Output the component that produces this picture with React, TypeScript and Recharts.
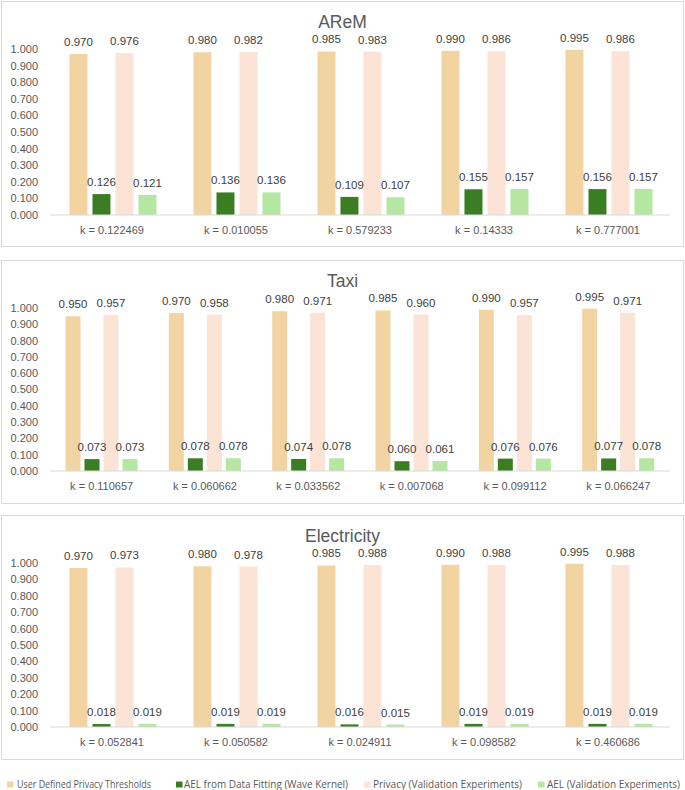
import React from "react";
import { BarChart, Bar, XAxis, YAxis, LabelList } from "recharts";

const aremK = ["k = 0.122469", "k = 0.010055", "k = 0.579233", "k = 0.14333", "k = 0.777001"];
const aremThreshold = [0.97, 0.98, 0.985, 0.99, 0.995];
const aremAelFit = [0.126, 0.136, 0.109, 0.155, 0.156];
const aremPrivacyVal = [0.976, 0.982, 0.983, 0.986, 0.986];
const aremAelVal = [0.121, 0.136, 0.107, 0.157, 0.157];

const taxiK = ["k = 0.110657", "k = 0.060662", "k = 0.033562", "k = 0.007068", "k = 0.099112", "k = 0.066247"];
const taxiThreshold = [0.95, 0.97, 0.98, 0.985, 0.99, 0.995];
const taxiAelFit = [0.073, 0.078, 0.074, 0.06, 0.076, 0.077];
const taxiPrivacyVal = [0.957, 0.958, 0.971, 0.96, 0.957, 0.971];
const taxiAelVal = [0.073, 0.078, 0.078, 0.061, 0.076, 0.078];

const elecK = ["k = 0.052841", "k = 0.050582", "k = 0.024911", "k = 0.098582", "k = 0.460686"];
const elecThreshold = [0.97, 0.98, 0.985, 0.99, 0.995];
const elecAelFit = [0.018, 0.019, 0.016, 0.019, 0.019];
const elecPrivacyVal = [0.973, 0.978, 0.988, 0.988, 0.988];
const elecAelVal = [0.019, 0.019, 0.015, 0.019, 0.019];

const yTicks = [0, 0.1, 0.2, 0.3, 0.4, 0.5, 0.6, 0.7, 0.8, 0.9, 1.0];

const seriesNames = [
  "User Defined Privacy Thresholds",
  "AEL from Data Fitting (Wave Kernel)",
  "Privacy (Validation Experiments)",
  "AEL (Validation Experiments)",
];
const seriesKeys = ["thr", "fit", "pv", "av"];
const seriesColors = ["#F2D4A3", "#3B7D23", "#FBE3D6", "#B5E6A2"];

const FONT = "'Liberation Sans', Arial, sans-serif";

function build(k: string[], a: number[], b: number[], c: number[], d: number[]) {
  return k.map((name, i) => ({ name, thr: a[i], fit: b[i], pv: c[i], av: d[i] }));
}

const panels = [
  { title: "AReM", top: 1, height: 246, plotH: 166, data: build(aremK, aremThreshold, aremAelFit, aremPrivacyVal, aremAelVal), gap: 5, cat: "15.7%" },
  { title: "Taxi", top: 260, height: 244, plotH: 163, data: build(taxiK, taxiThreshold, taxiAelFit, taxiPrivacyVal, taxiAelVal), gap: 4, cat: "15%" },
  { title: "Electricity", top: 515, height: 245, plotH: 164, data: build(elecK, elecThreshold, elecAelFit, elecPrivacyVal, elecAelVal), gap: 5, cat: "15.7%" },
];

const legendPos = [
  { sx: 7, tx: 17, tw: 134 },
  { sx: 176, tx: 184, tw: 164 },
  { sx: 364, tx: 373, tw: 149 },
  { sx: 538, tx: 547, tw: 133 },
];

function Panel({ p }: { p: (typeof panels)[number] }) {
  return (
    <div style={{ position: "absolute", left: 0, top: p.top, width: 685, height: p.height }}>
      <BarChart
        width={685}
        height={p.height}
        data={p.data}
        margin={{ top: 48, right: 15, left: 0, bottom: 0 }}
        barGap={p.gap}
        barCategoryGap={p.cat}
      >
        <XAxis
          dataKey="name"
          height={p.height - 48 - p.plotH}
          tickLine={false}
          axisLine={{ stroke: "#D9D9D9" }}
          tickMargin={5}
          tick={{ fill: "#595959", fontSize: 11, fontFamily: FONT }}
          interval={0}
        />
        <YAxis
          width={50}
          domain={[0, 1]}
          ticks={yTicks}
          interval={0}
          tickFormatter={(v: number) => v.toFixed(3)}
          tickLine={false}
          axisLine={false}
          tickMargin={6}
          tick={{ fill: "#595959", fontSize: 11, fontFamily: FONT }}
        />
        {seriesKeys.map((key, i) => (
          <Bar key={key} dataKey={key} name={seriesNames[i]} fill={seriesColors[i]} isAnimationActive={false}>
            <LabelList
              dataKey={key}
              position="top"
              offset={8}
              formatter={(v: any) => Number(v).toFixed(3)}
              style={{ fill: "#404040", fontSize: 11.5, fontFamily: FONT }}
            />
          </Bar>
        ))}
      </BarChart>
    </div>
  );
}

export default function App() {
  return (
    <div style={{ position: "absolute", left: 0, top: 0, width: 685, height: 790, background: "#fff" }}>
      <svg width={685} height={790} style={{ position: "absolute", left: 0, top: 0 }}>
        {panels.map((p) => (
          <g key={p.title}>
            <rect x={1.5} y={p.top + 0.5} width={682} height={p.height - 1} fill="#fff" stroke="#D9D9D9" strokeWidth={1} />
            <text x={342.5} y={p.top + 26.5} textAnchor="middle" fontSize={17.5} fill="#595959" fontFamily={FONT}>
              {p.title}
            </text>
          </g>
        ))}
        {seriesNames.map((n, i) => (
          <g key={n}>
            <rect x={legendPos[i].sx} y={781.5} width={6.5} height={6} fill={seriesColors[i]} />
            <text
              x={legendPos[i].tx}
              y={788}
              fontSize={10}
              fill="#595959"
              fontFamily="'Liberation Sans Narrow', 'Open Sans', sans-serif"
              textLength={legendPos[i].tw}
              lengthAdjust="spacingAndGlyphs"
            >
              {n}
            </text>
          </g>
        ))}
      </svg>
      {panels.map((p) => (
        <Panel key={p.title} p={p} />
      ))}
    </div>
  );
}
